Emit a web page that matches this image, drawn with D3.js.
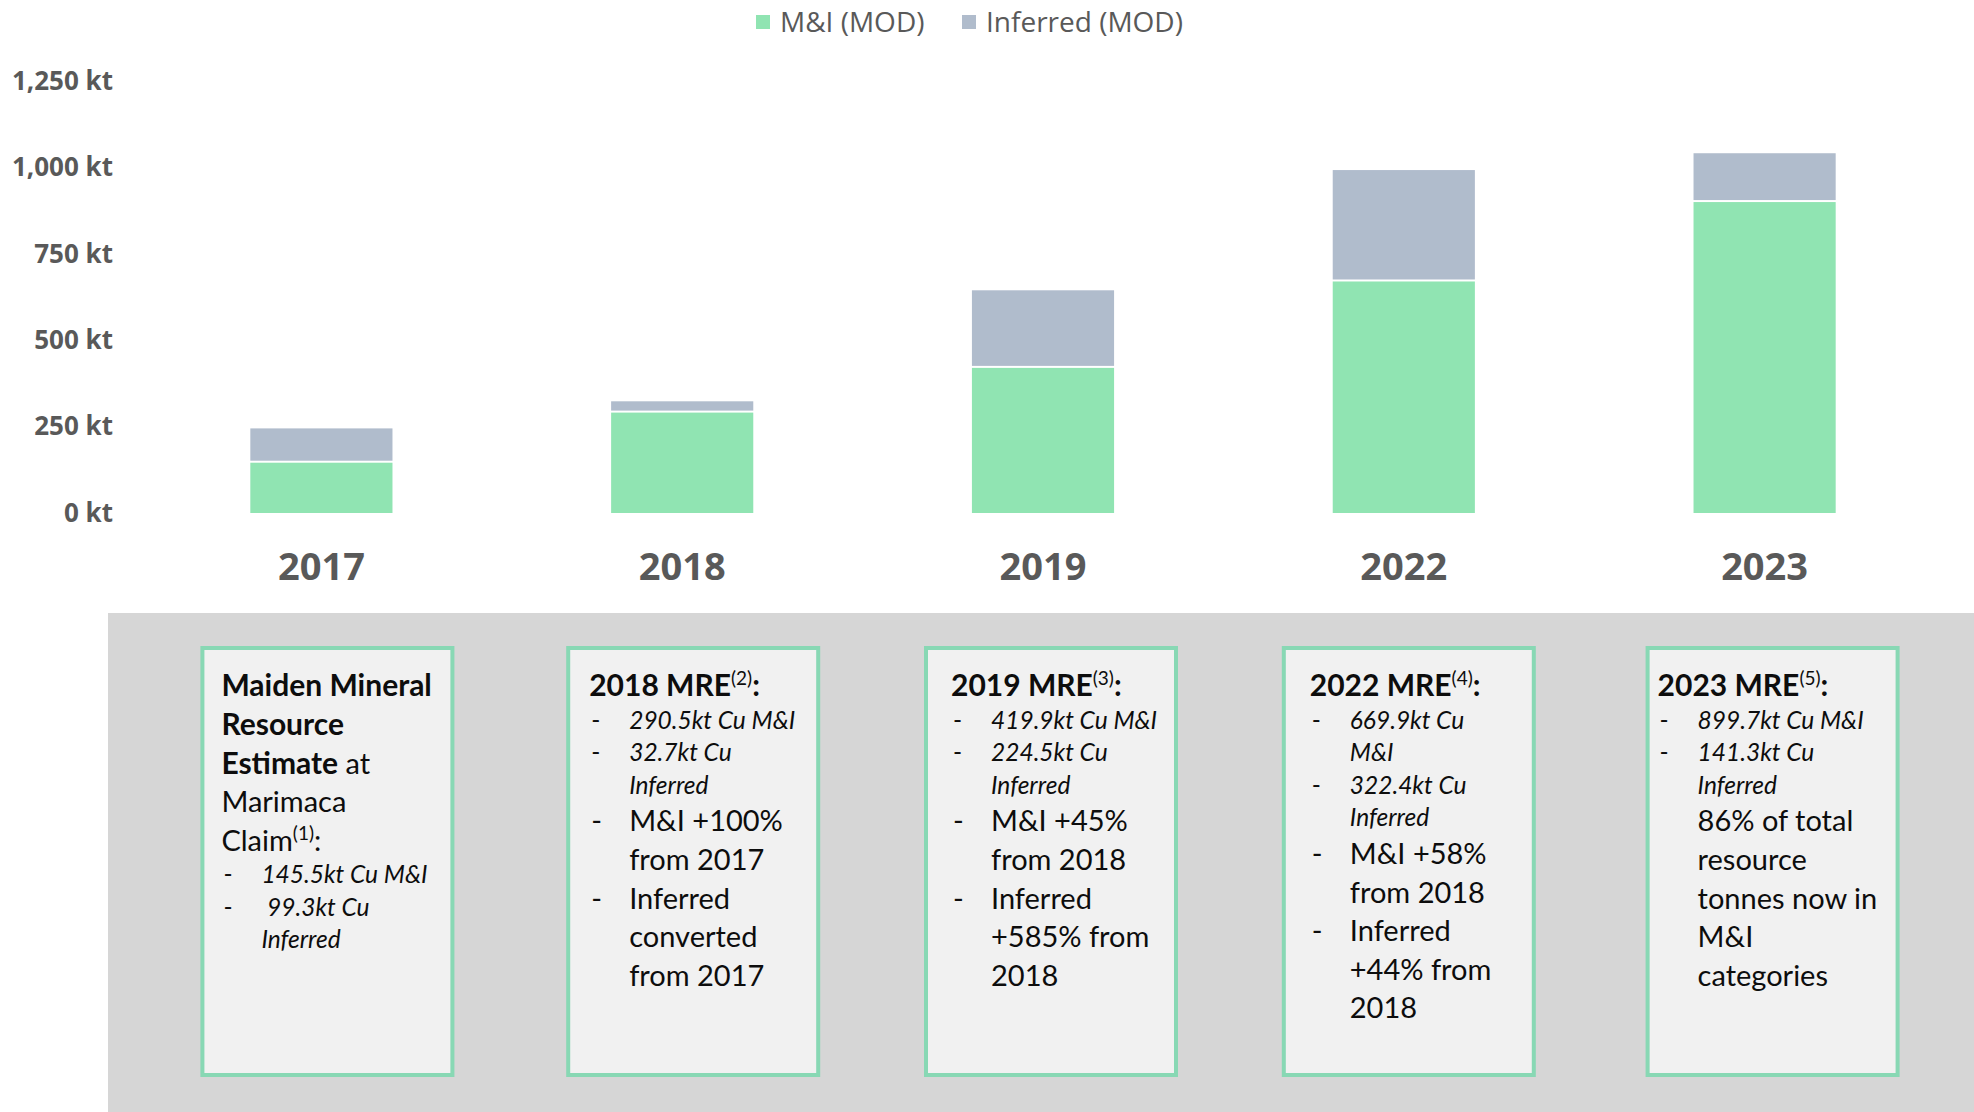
<!DOCTYPE html>
<html>
<head>
<meta charset="utf-8">
<script src="https://cdn.jsdelivr.net/npm/d3@7"></script>
<style>
  html, body { margin: 0; padding: 0; background: #ffffff; }
  svg { display: block; }
</style>
</head>
<body>
<svg id="chart" width="1974" height="1112"></svg>
<script>
// ---------- data ----------
const years = ["2017", "2018", "2019", "2022", "2023"];
const miValues = [145.5, 290.5, 419.9, 669.9, 899.7];
const inferredValues = [99.3, 32.7, 224.5, 322.4, 141.3];
const seriesNames = ["M&I (MOD)", "Inferred (MOD)"];
const yTicks = [0, 250, 500, 750, 1000, 1250];

// box annotations (one per year): k = L (large) / S (small); dash = bullet; ind = indented
const box2017 = [
  {k: "L", seg: [["Maiden Mineral", "b"]]},
  {k: "L", seg: [["Resource", "b"]]},
  {k: "L", seg: [["Estimate", "b"], [" at", "r"]]},
  {k: "L", seg: [["Marimaca", "r"]]},
  {k: "L", seg: [["Claim", "r"], ["(1)", "sup"], [":", "r"]]},
  {k: "S", dash: true, seg: [["145.5kt Cu M&I", "i"]]},
  {k: "S", dash: true, seg: [["\u00a099.3kt Cu", "i"]]},
  {k: "S", ind: true, seg: [["Inferred", "i"]]}
];
const box2018 = [
  {k: "L", seg: [["2018 MRE", "b"], ["(2)", "sup"], [":", "b"]]},
  {k: "S", dash: true, seg: [["290.5kt Cu M&I", "i"]]},
  {k: "S", dash: true, seg: [["32.7kt Cu", "i"]]},
  {k: "S", ind: true, seg: [["Inferred", "i"]]},
  {k: "L", dash: true, seg: [["M&I +100%", "r"]]},
  {k: "L", ind: true, seg: [["from 2017", "r"]]},
  {k: "L", dash: true, seg: [["Inferred", "r"]]},
  {k: "L", ind: true, seg: [["converted", "r"]]},
  {k: "L", ind: true, seg: [["from 2017", "r"]]}
];
const box2019 = [
  {k: "L", seg: [["2019 MRE", "b"], ["(3)", "sup"], [":", "b"]]},
  {k: "S", dash: true, seg: [["419.9kt Cu M&I", "i"]]},
  {k: "S", dash: true, seg: [["224.5kt Cu", "i"]]},
  {k: "S", ind: true, seg: [["Inferred", "i"]]},
  {k: "L", dash: true, seg: [["M&I +45%", "r"]]},
  {k: "L", ind: true, seg: [["from 2018", "r"]]},
  {k: "L", dash: true, seg: [["Inferred", "r"]]},
  {k: "L", ind: true, seg: [["+585% from", "r"]]},
  {k: "L", ind: true, seg: [["2018", "r"]]}
];
const box2022 = [
  {k: "L", seg: [["2022 MRE", "b"], ["(4)", "sup"], [":", "b"]]},
  {k: "S", dash: true, seg: [["669.9kt Cu", "i"]]},
  {k: "S", ind: true, seg: [["M&I", "i"]]},
  {k: "S", dash: true, seg: [["322.4kt Cu", "i"]]},
  {k: "S", ind: true, seg: [["Inferred", "i"]]},
  {k: "L", dash: true, seg: [["M&I +58%", "r"]]},
  {k: "L", ind: true, seg: [["from 2018", "r"]]},
  {k: "L", dash: true, seg: [["Inferred", "r"]]},
  {k: "L", ind: true, seg: [["+44% from", "r"]]},
  {k: "L", ind: true, seg: [["2018", "r"]]}
];
const box2023 = [
  {k: "L", seg: [["2023 MRE", "b"], ["(5)", "sup"], [":", "b"]]},
  {k: "S", dash: true, seg: [["899.7kt Cu M&I", "i"]]},
  {k: "S", dash: true, seg: [["141.3kt Cu", "i"]]},
  {k: "S", ind: true, seg: [["Inferred", "i"]]},
  {k: "L", ind: true, seg: [["86% of total", "r"]]},
  {k: "L", ind: true, seg: [["resource", "r"]]},
  {k: "L", ind: true, seg: [["tonnes now in", "r"]]},
  {k: "L", ind: true, seg: [["M&I", "r"]]},
  {k: "L", ind: true, seg: [["categories", "r"]]}
];
const boxTexts = [box2017, box2018, box2019, box2022, box2023];

// ---------- styles ----------
const colMI = "#90e4b2";
const colInf = "#b0bccc";
const axisColor = "#595959";
const panelColor = "#d6d6d6";
const boxFill = "#f1f1f1";
const boxStroke = "#88d8b4";
const axisFont = "'Open Sans', sans-serif";
const boxFont = "Lato, 'Open Sans', sans-serif";

const svg = d3.select("#chart");

// ---------- scales ----------
const x = d3.scaleBand().domain(years).range([141, 1945]).paddingInner(0.606).paddingOuter(0.303);
const y = d3.scaleLinear().domain([0, 1250]).range([513, 81]);

// ---------- legend ----------
const legend = svg.append("g");
const legendX = [756, 962];
const legendCols = [colMI, colInf];
seriesNames.forEach((name, i) => {
  legend.append("rect").attr("x", legendX[i]).attr("y", 15).attr("width", 14).attr("height", 14).attr("fill", legendCols[i]);
  legend.append("text").attr("x", legendX[i] + 24).attr("y", 22).attr("dy", "0.35em")
    .attr("font-family", axisFont).attr("font-size", 28).attr("fill", axisColor).text(name);
});

// ---------- y axis ----------
const yAxis = svg.append("g").attr("transform", "translate(116,0)")
  .call(d3.axisLeft(y).tickValues(yTicks).tickSize(0).tickPadding(3).tickFormat(d => d3.format(",")(d) + " kt"));
yAxis.select(".domain").remove();
yAxis.selectAll("text").attr("font-family", axisFont).attr("font-weight", 700).attr("font-size", 26).attr("fill", axisColor);

// ---------- x axis ----------
const xAxis = svg.append("g").attr("transform", "translate(0,513)")
  .call(d3.axisBottom(x).tickSize(0).tickPadding(0));
xAxis.select(".domain").remove();
xAxis.selectAll("text").attr("dy", null).attr("y", 67)
  .attr("font-family", axisFont).attr("font-weight", 700).attr("font-size", 38).attr("fill", axisColor);

// ---------- bars ----------
const bars = svg.append("g");
years.forEach((yr, i) => {
  const mi = miValues[i], inf = inferredValues[i];
  bars.append("rect").attr("x", x(yr)).attr("width", x.bandwidth())
    .attr("y", y(mi)).attr("height", y(0) - y(mi)).attr("fill", colMI);
  bars.append("rect").attr("x", x(yr)).attr("width", x.bandwidth())
    .attr("y", y(mi + inf)).attr("height", Math.max(0, y(mi) - y(mi + inf) - 2)).attr("fill", colInf);
});

// ---------- annotation panel ----------
svg.append("rect").attr("x", 108).attr("y", 613).attr("width", 1974 - 108).attr("height", 1112 - 613).attr("fill", panelColor);

const boxW = 254, boxTop = 646, boxH = 431;
const boxShift = [6, 11, 8, 5, 8];
const boxPad = [21, 23, 27, 28, 12];
const sizeL = 29, sizeB = 30, sizeS = 24.5, sizeSup = 19;
const gapRule = {LL: 38.6, LS: 34, SS: 32.5, SL: 36};

years.forEach((yr, i) => {
  const cx = x(yr) + x.bandwidth() / 2 + boxShift[i];
  const bx = cx - boxW / 2;
  svg.append("rect").attr("x", bx + 2).attr("y", boxTop + 2).attr("width", boxW - 4).attr("height", boxH - 4)
    .attr("fill", boxFill).attr("stroke", boxStroke).attr("stroke-width", 4);

  let cy = 686;
  let prev = null;
  boxTexts[i].forEach(line => {
    if (prev) cy += gapRule[prev + line.k];
    prev = line.k;
    const fs = line.k === "L" ? sizeL : sizeS;
    const baseY = cy + fs * 0.36;
    const tx0 = bx + boxPad[i];
    if (line.dash) {
      svg.append("text").attr("x", tx0 + 2).attr("y", baseY).attr("font-family", boxFont)
        .attr("font-size", fs).attr("fill", "#0d0d0d").text("-");
    }
    const tx = (line.dash || line.ind) ? tx0 + 40 : tx0;
    const t = svg.append("text").attr("x", tx).attr("y", baseY).attr("font-family", boxFont)
      .attr("font-size", fs).attr("fill", "#0d0d0d").attr("xml:space", "preserve");
    let raised = false;
    line.seg.forEach(([txt, st]) => {
      const ts = t.append("tspan").text(txt);
      if (st === "b") ts.attr("font-weight", 700).attr("font-size", sizeB);
      if (st === "i") ts.attr("font-style", "italic");
      if (st === "sup") { ts.attr("font-size", sizeSup).attr("dy", -11); raised = true; }
      else if (raised) { ts.attr("dy", 11); raised = false; }
    });
  });
});
</script>
</body>
</html>
